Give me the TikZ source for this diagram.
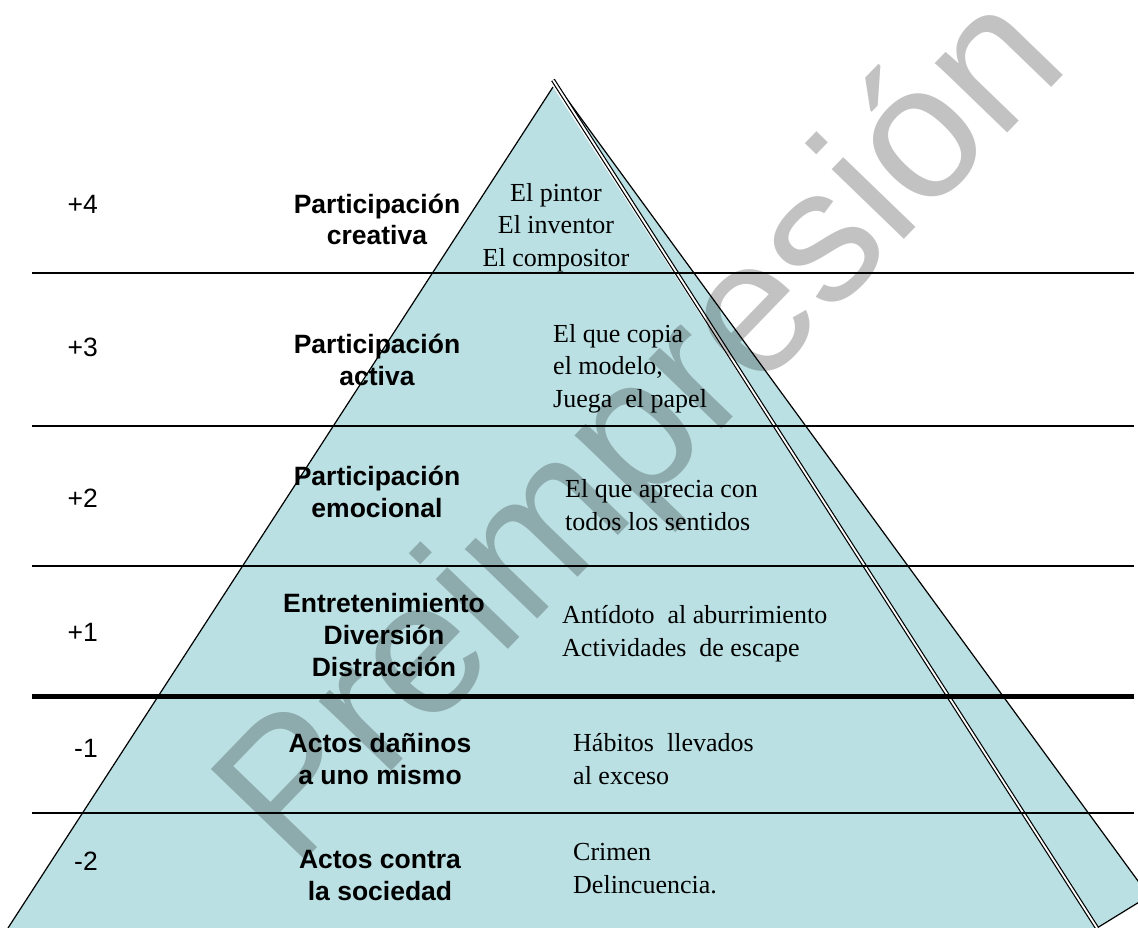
\documentclass[tikz,border=0pt]{standalone}
\usepackage{fontspec}
\setmainfont{Liberation Serif}
\newfontfamily\arialf{Liberation Sans}
\definecolor{pyr}{HTML}{BAE0E3}
\begin{document}
\begin{tikzpicture}[x=1pt,y=-1pt,
  num/.style={font=\arialf\fontsize{26.5}{32}\selectfont, anchor=base east, inner sep=0pt},
  lvl/.style={font=\arialf\bfseries\fontsize{26.5}{32}\selectfont, align=center, anchor=base, inner sep=0pt},
  ex/.style={font=\fontsize{26}{32.5}\selectfont, align=left, anchor=base west, inner sep=0pt},
  exc/.style={font=\fontsize{26}{32.5}\selectfont, align=center, anchor=base, inner sep=0pt},
  sepline/.style={line width=2pt},
  thickline/.style={line width=5pt},
  pyredge/.style={line width=1.2pt},
  wmark/.style={font=\arialf\fontsize{190}{190}\selectfont, rotate=46, anchor=base, inner sep=0pt, text opacity=0.24}]
\useasboundingbox (0,0) rectangle (1138,928);
\clip (0,0) rectangle (1138,928);
% side face
\draw[pyredge, fill=pyr] (553,80) -- (1149,896) -- (1097,928) -- cycle;
% front face
\fill[pyr] (553,87) -- (8,928) -- (1097,928) -- cycle;
\draw[pyredge] (553,87) -- (8,928);
\draw[line width=1.2pt, double=white, double distance=1.8pt] (553,80) -- (1097,928);
% level separators
\draw[sepline] (32,273) -- (1134,273);
\draw[sepline] (32,426) -- (1134,426);
\draw[sepline] (32,566) -- (1134,566);
\draw[thickline] (32,696) -- (1134,696);
\draw[sepline] (32,813) -- (1134,813);
% numbers
\node[num] (n4) at (98,214) {+4};
\node[num] (n3) at (98,356) {+3};
\node[num] (n2) at (98,507) {+2};
\node[num] (n1) at (98,641) {+1};
\node[num] (m1) at (98,757) {-1};
\node[num] (m2) at (98,870) {-2};
% level names (anchor = baseline of last line)
\node[lvl] (l4) at (377,245) {Participación\\creativa};
\node[lvl] (l3) at (377,385) {Participación\\activa};
\node[lvl] (l2) at (377,517) {Participación\\emocional};
\node[lvl] (l1) at (384,676) {Entretenimiento\\Diversión\\Distracción};
\node[lvl] (k1) at (380,784) {Actos dañinos\\a uno mismo};
\node[lvl] (k2) at (380,900) {Actos contra\\la sociedad};
% examples (anchor = baseline of last line)
\node[exc] (e4) at (556,266) {El pintor\\El inventor\\El compositor};
\node[ex] (e3) at (553,407) {El que copia\\el modelo,\\Juega\ \ el papel};
\node[ex] (e2) at (565,530) {El que aprecia con\\todos los sentidos};
\node[ex] (e1) at (562,656) {Antídoto\ \ al aburrimiento\\Actividades\ \ de escape};
\node[ex] (f1) at (573,784) {Hábitos\ \ llevados\\al exceso};
\node[ex] (f2) at (573,893) {Crimen\\Delincuencia.};
% watermark
\node[wmark] (wm) at (683,469) {Preimpresión};
\end{tikzpicture}
\end{document}
